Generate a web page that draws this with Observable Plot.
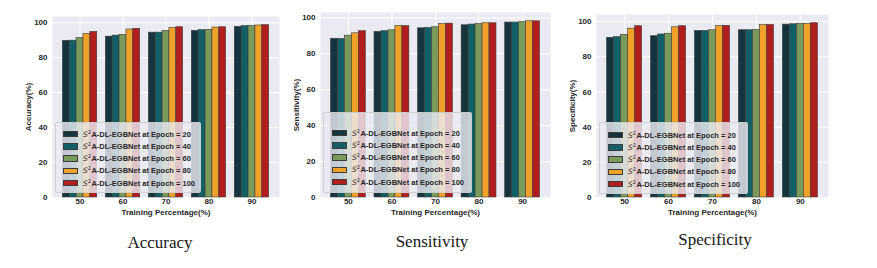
<!DOCTYPE html>
<html><head><meta charset="utf-8">
<script src="https://cdn.jsdelivr.net/npm/d3@7"></script>
<script src="https://cdn.jsdelivr.net/npm/@observablehq/plot@0.6"></script>
<style>
body{margin:0;background:#fff;}
#root{position:relative;width:877px;height:268px;overflow:hidden;background:#fff;font-family:"Liberation Sans",Arial,sans-serif;}
.panel{position:absolute;top:0;}
.panel svg{position:absolute;left:0;top:0;overflow:visible;}
.legend{position:absolute;box-sizing:border-box;background:rgba(234,234,242,0.82);border:0.8px solid rgba(200,200,200,0.8);border-radius:2px;}
.row{position:absolute;display:flex;align-items:center;height:8px;font-weight:bold;font-size:7.5px;color:#262626;white-space:nowrap;}
.row i{font-weight:normal;font-family:"DejaVu Sans",sans-serif;font-size:7.5px;}
.row sup{font-size:5px;font-weight:normal;font-family:"DejaVu Sans",sans-serif;vertical-align:3px;line-height:0;margin-right:0.5px;}
.sw{width:15px;height:6.5px;box-sizing:border-box;border:0.6px solid #3c3c3c;margin-right:5px;flex:none;}
.caption{position:absolute;font-family:"Liberation Serif","Times New Roman",serif;font-size:17px;color:#161616;transform:translateX(-50%);white-space:nowrap;line-height:1;}
</style></head><body><div id="root"></div>
<script>
const trainPct = ["50", "60", "70", "80", "90"];
const epochs = [20, 40, 60, 80, 100];
const modelName = "A-DL-EGBNet";
const legendBase = "S";
const legendPower = "2";
const xLabel = "Training Percentage(%)";
const yTicks = [0, 20, 40, 60, 80, 100];
const captions = ["Accuracy", "Sensitivity", "Specificity"];
const yLabels = ["Accuracy(%)", "Sensitivity(%)", "Specificity(%)"];
const colors = ["#16343e", "#135f66", "#7a9a5b", "#f0a12a", "#b01f1d"];

// rows = epochs (20..100), columns = training percentage (50..90)
const accuracy = [
  [89.7, 92.1, 94.4, 95.4, 97.7],
  [89.8, 92.7, 94.4, 95.8, 98.1],
  [91.4, 93.1, 95.4, 96.0, 98.1],
  [93.7, 96.2, 97.1, 97.3, 98.5],
  [94.8, 96.6, 97.5, 97.5, 98.7]
];
const sensitivity = [
  [88.4, 92.2, 94.2, 95.9, 97.4],
  [88.3, 92.6, 94.4, 96.3, 97.4],
  [90.1, 93.1, 94.8, 96.6, 97.6],
  [91.4, 95.4, 96.5, 97.0, 98.1],
  [92.6, 95.4, 96.8, 97.0, 98.1]
];
const specificity = [
  [90.8, 91.7, 94.7, 95.1, 98.3],
  [91.2, 92.7, 94.7, 95.1, 98.5],
  [92.5, 93.1, 95.1, 95.3, 98.7],
  [96.0, 96.8, 97.4, 98.0, 98.7],
  [97.4, 97.4, 97.6, 98.1, 99.1]
];
const metrics = [accuracy, sensitivity, specificity];

// layout (styling only)
const layouts = [
  {left: 0, width: 290, mL: 52, mR: 11, mT: 16, legend: {x: 55, y: 122, w: 146, h: 71, pt: 11, pl: 7}, cap: {x: 160, y: 234}},
  {left: 270, width: 290, mL: 50, mR: 10, mT: 12, legend: {x: 323, y: 112, w: 149, h: 81, pt: 20, pl: 8}, cap: {x: 432, y: 233}},
  {left: 546, width: 290, mL: 50, mR: 8, mT: 14, legend: {x: 599, y: 122, w: 149, h: 72, pt: 12, pl: 8}, cap: {x: 715, y: 231}}
];
const H = 226, plotBottom = 197;
const padInner = 0.2, padOuter = 0.24;

const root = document.getElementById("root");

metrics.forEach((values, k) => {
  const L = layouts[k];
  const inner = L.width - L.mL - L.mR;
  const step = inner / (trainPct.length - padInner + 2 * padOuter);
  const bw = step * (1 - padInner) / epochs.length;
  const ymax = d3.max(values.flat()) * 1.05;

  const barMarks = epochs.map((e, i) =>
    Plot.barY(trainPct.map((p, j) => ({pct: p, value: values[i][j]})), {
      x: "pct", y: "value", fill: colors[i],
      stroke: "#3c3c3c", strokeWidth: 0.6,
      insetLeft: i * bw, insetRight: (epochs.length - 1 - i) * bw
    })
  );

  const chart = Plot.plot({
    width: L.width, height: H,
    marginLeft: L.mL, marginRight: L.mR, marginTop: L.mT, marginBottom: H - plotBottom,
    style: {background: "transparent", fontFamily: "'Liberation Sans', Arial, sans-serif", fontSize: "8px", fontWeight: "bold", color: "#262626", overflow: "visible"},
    x: {domain: trainPct, paddingInner: padInner, paddingOuter: padOuter, round: false, align: 0.5,
        label: xLabel, labelAnchor: "center", tickSize: 0, tickPadding: 1, labelOffset: 17},
    y: {domain: [0, ymax], ticks: yTicks, tickSize: 0, tickPadding: 5, label: yLabels[k],
        labelAnchor: "center", labelOffset: 27, labelArrow: "none"},
    marks: [
      Plot.frame({fill: "#eaeaf2", stroke: null}),
      Plot.ruleY(yTicks, {stroke: "white", strokeWidth: 1}),
      Plot.ruleX(trainPct, {stroke: "white", strokeWidth: 1}),
      ...barMarks
    ]
  });

  const panel = document.createElement("div");
  panel.className = "panel";
  panel.style.left = L.left + "px";
  panel.style.width = L.width + "px";
  panel.style.height = H + "px";
  panel.appendChild(chart);
  root.appendChild(panel);

  // legend
  const lg = document.createElement("div");
  lg.className = "legend";
  Object.assign(lg.style, {left: L.legend.x + "px", top: L.legend.y + "px", width: L.legend.w + "px", height: L.legend.h + "px"});
  epochs.forEach((e, i) => {
    const row = document.createElement("div");
    row.className = "row";
    row.style.left = L.legend.pl + "px";
    row.style.top = (L.legend.pt + i * 12.25 - 4) + "px";
    const sw = document.createElement("span");
    sw.className = "sw";
    sw.style.background = colors[i];
    row.appendChild(sw);
    const t = document.createElement("span");
    t.innerHTML = `<i>${legendBase}</i><sup>${legendPower}</sup>${modelName} at Epoch = ${e}`;
    row.appendChild(t);
    lg.appendChild(row);
  });
  root.appendChild(lg);

  const cap = document.createElement("div");
  cap.className = "caption";
  cap.style.left = L.cap.x + "px";
  cap.style.top = L.cap.y + "px";
  cap.textContent = captions[k];
  root.appendChild(cap);
});
</script></body></html>
